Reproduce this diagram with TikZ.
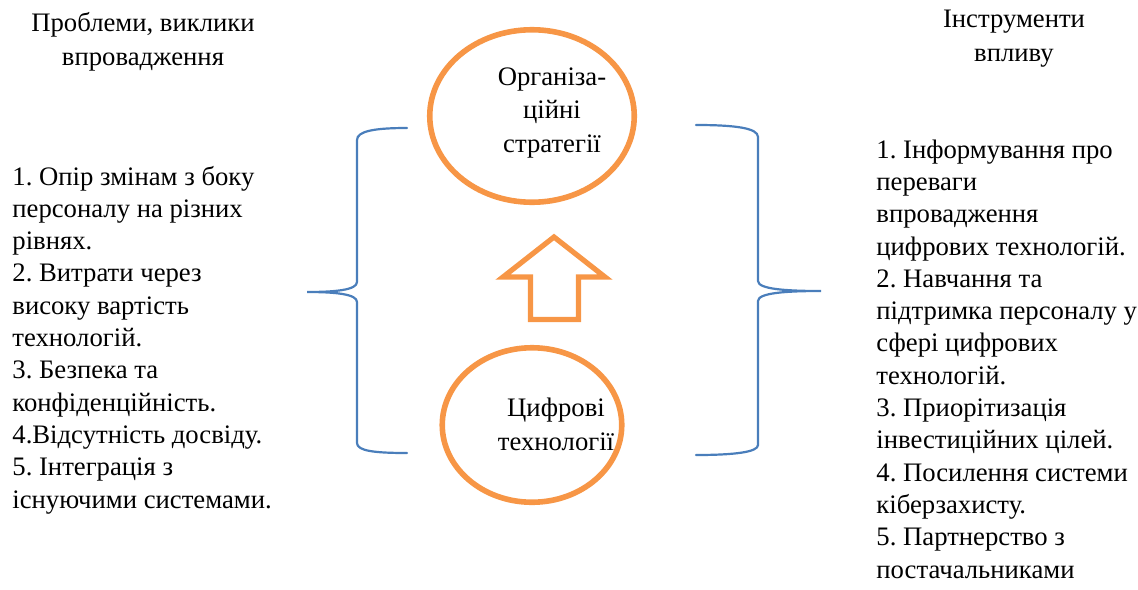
\documentclass[tikz,border=0pt]{standalone}
\usepackage{fontspec}
\setmainfont{Liberation Serif}
\usetikzlibrary{calc,shapes.geometric,positioning}
\definecolor{OffOrange}{RGB}{247,150,70}
\definecolor{OffBlue}{RGB}{74,126,187}
\tikzset{
  orgoval/.style ={ellipse, draw=OffOrange, line width=2.8pt, inner sep=0pt},
  ovaltext/.style={align=center, inner sep=0pt, anchor=base,
                   font=\fontsize{13.35}{16.6}\selectfont},
  headtext/.style={align=center, inner sep=0pt, anchor=base,
                   font=\fontsize{13.35}{16.6}\selectfont},
  listtext/.style={align=left, inner sep=0pt, anchor=base west,
                   font=\fontsize{13.35}{16.15}\selectfont},
  bracket/.style ={OffBlue, line width=1.1pt, line cap=round},
  upshape/.style ={OffOrange, line width=2.6pt, line join=miter},
}
\frenchspacing
\begin{document}
\begin{tikzpicture}[x=0.5pt, y=-0.5pt]
  \useasboundingbox (0,0) rectangle (1138,589);
  % the two ovals
  \node[orgoval, minimum width=102.25pt, minimum height=86.25pt] (strat) at (532,116) {};
  \node[orgoval, minimum width=89.75pt, minimum height=77.25pt] (tech) at (532,425) {};
  % (base = last line of each text)
  \node[ovaltext] (strattxt) at (552,152) {Організа-\\ційні\\стратегії};
  \node[ovaltext] (techtxt) at (556,450) {Цифрові\\технології};
  % arrow between them
  \draw[upshape] (530.5,319.5) -- (530.5,277) -- (503,277) -- (554,237)
    -- (605,277) -- (578.5,277) -- (578.5,319.5) -- cycle;
  % headings
  \node[headtext] (probhead) at (143,65) {Проблеми, виклики\\впровадження};
  \node[headtext] (toolhead) at (1014,61) {Інструменти\\впливу};
  % the two lists
  \node[listtext] (problist) at (12,508) {1. Опір змінам з боку\\персоналу на різних\\рівнях.\\
    2. Витрати через\\високу вартість\\технологій.\\3. Безпека та\\конфіденційність.\\
    4.Відсутність досвіду.\\5. Інтеграція з\\існуючими системами.};
  \node[listtext] (toollist) at (876,578) {1. Інформування про\\переваги\\впровадження\\
    цифрових технологій.\\2. Навчання та\\підтримка персоналу у\\сфері цифрових\\
    технологій.\\3. Приорітизація\\інвестиційних цілей.\\4. Посилення системи\\
    кіберзахисту.\\5. Партнерство з\\постачальниками};
  % braces
  \coordinate (lbtop) at (407,128);
  \coordinate (lbtip) at (307,292);
  \coordinate (lbbot) at (407,453);
  \draw[bracket] (lbtop) .. controls (375,128) and (357,131) .. (357,140)
    -- (357,282) .. controls (357,290) and (335,292) .. (lbtip)
    .. controls (335,292) and (357,294) .. (357,302)
    -- (357,443) .. controls (357,451) and (375,453) .. (lbbot);
  \coordinate (rbtop) at (696,125);
  \coordinate (rbtip) at (821,291);
  \coordinate (rbbot) at (696,455);
  \draw[bracket] (rbtop) .. controls (735,125) and (758,128) .. (758,137)
    -- (758,281) .. controls (758,289) and (785,291) .. (rbtip)
    .. controls (785,291) and (758,293) .. (758,301)
    -- (758,445) .. controls (758,452) and (735,455) .. (rbbot);
\end{tikzpicture}
\end{document}
